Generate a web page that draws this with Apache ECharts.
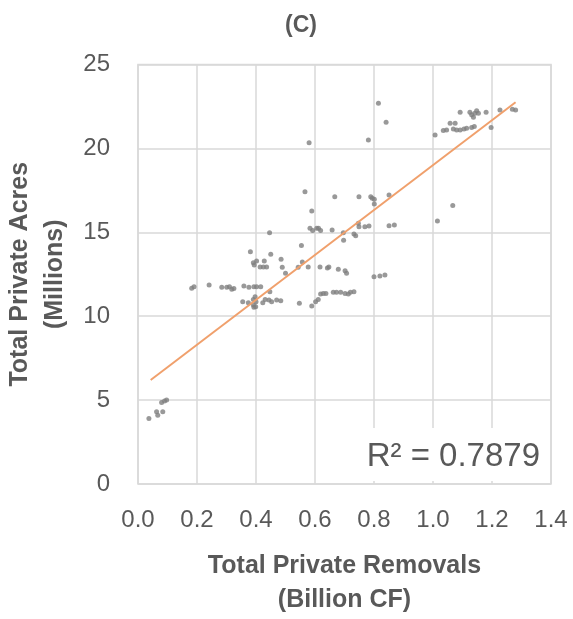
<!DOCTYPE html>
<html><head><meta charset="utf-8">
<script src="https://cdn.jsdelivr.net/npm/echarts@6/dist/echarts.min.js"></script>
<style>html,body{margin:0;padding:0;background:#fff}#c{width:573px;height:619px}</style>
</head><body><div id="c"></div>
<script>
var removals = [0.037,0.063,0.067,0.084,0.08,0.09,0.097,
0.182,0.19,0.241,0.284,0.301,0.31,0.318,0.325,0.359,0.376,0.393,0.402,0.416,0.447,
0.355,0.374,0.391,0.397,0.4,0.391,0.393,0.399,0.423,0.431,0.444,0.453,0.47,0.484,0.547,0.589,0.602,0.611,0.619,0.628,0.637,0.662,0.673,0.687,0.702,0.713,0.72,0.732,
0.381,0.45,0.485,0.402,0.391,0.394,0.428,0.414,0.425,0.436,0.489,0.5,0.557,0.577,0.543,0.617,0.642,0.647,0.679,0.702,0.707,0.80,0.82,0.837,
0.446,0.554,0.583,0.592,0.606,0.612,0.619,0.658,0.697,0.696,0.732,0.738,0.747,0.749,0.769,0.783,0.851,0.869,1.015,1.067,
0.749,0.789,0.794,0.801,0.801,0.851,0.566,0.667,0.589,0.58,
0.815,0.841,0.781,1.007,1.035,1.046,1.058,1.075,1.069,1.08,1.092,1.105,1.114,1.131,1.14,
1.092,1.125,1.131,1.137,1.142,1.148,1.154,1.18,1.197,1.227,1.269,1.28];
var acres = [3.91,4.3,4.1,4.3,4.85,4.95,5.0,
11.66,11.76,11.86,11.72,11.72,11.76,11.6,11.65,11.8,11.72,11.76,11.76,11.76,11.46,
10.86,10.8,11.0,11.16,10.86,10.67,10.53,10.57,10.8,11.0,10.97,10.86,10.97,10.92,10.77,10.61,10.86,11.0,11.32,11.36,11.36,11.42,11.42,11.42,11.36,11.32,11.42,11.46,
13.84,13.69,13.39,13.29,13.19,13.05,13.29,12.93,12.93,12.93,12.91,12.56,13.23,12.93,12.91,12.93,12.87,12.93,12.8,12.71,12.56,12.35,12.4,12.45,
14.98,14.22,15.24,15.1,15.24,15.24,15.1,15.14,14.52,14.98,14.9,14.8,15.54,15.33,15.33,15.38,15.39,15.43,15.67,16.59,
17.12,17.12,17.03,16.97,16.69,17.22,17.42,17.12,16.27,20.34,
22.69,21.56,20.5,20.8,21.06,21.1,21.5,21.5,21.16,21.1,21.1,21.16,21.2,21.24,21.3,
22.15,22.15,22.0,21.85,22.09,22.25,22.09,22.15,21.24,22.29,22.33,22.29];
var trendX = [0.043, 1.28];
var trendY = [6.2, 22.75];
var xTicks = [0.0,0.2,0.4,0.6,0.8,1.0,1.2,1.4];
var yTicks = [0,5,10,15,20,25];
var titleText = '(C)';
var rText = 'R\u00B2 = 0.7879';

var pts = removals.map(function(x,i){return [x, acres[i]];});
var trend = trendX.map(function(x,i){return [x, trendY[i]];});
var chart = echarts.init(document.getElementById('c'));
var txt = '#595959', grid = '#d9d9d9';
var ff = 'Liberation Sans, Open Sans, sans-serif';
chart.setOption({
  animation:false,
  textStyle:{fontFamily:ff},
  title:{text:titleText,left:296,top:9,textAlign:'center',textStyle:{fontSize:23,fontWeight:'bold',color:txt,fontFamily:ff}},
  grid:{left:138,right:22,top:64.5,bottom:135,show:true,borderColor:grid,borderWidth:1.5,containLabel:false,outerBoundsMode:'none'},
  xAxis:{type:'value',min:xTicks[0],max:xTicks[xTicks.length-1],interval:0.2,
    axisLine:{show:false},axisTick:{show:false},
    splitLine:{lineStyle:{color:grid,width:1.5}},
    axisLabel:{color:txt,fontSize:24,margin:24,formatter:function(v){return v.toFixed(1);}},
    name:'Total Private Removals\n(Billion CF)',nameLocation:'middle',nameGap:65,
    nameTextStyle:{color:txt,fontSize:25,fontWeight:'bold',lineHeight:34}},
  yAxis:{type:'value',min:yTicks[0],max:yTicks[yTicks.length-1],interval:5,
    axisLine:{show:false},axisTick:{show:false},
    splitLine:{lineStyle:{color:grid,width:1.5}},
    axisLabel:{color:txt,fontSize:24,margin:28},
    name:'Total Private Acres\n(Millions)',nameLocation:'middle',nameGap:62,nameRotate:90,
    nameTextStyle:{color:txt,fontSize:25,fontWeight:'bold',lineHeight:35}},
  graphic:[
    {type:'rect',left:362,top:428,z:10,shape:{width:188,height:53},style:{fill:'#fff'}},
    {type:'text',right:33,top:440,z:11,style:{text:rText,fill:txt,fontSize:33,fontFamily:ff}}
  ],
  series:[
    {type:'scatter',data:pts,symbolSize:5,itemStyle:{color:'#7f7f7f'},z:3},
    {type:'line',data:trend,showSymbol:false,symbol:'none',lineStyle:{color:'#f0a06c',width:2},z:4}
  ]
});
</script></body></html>
